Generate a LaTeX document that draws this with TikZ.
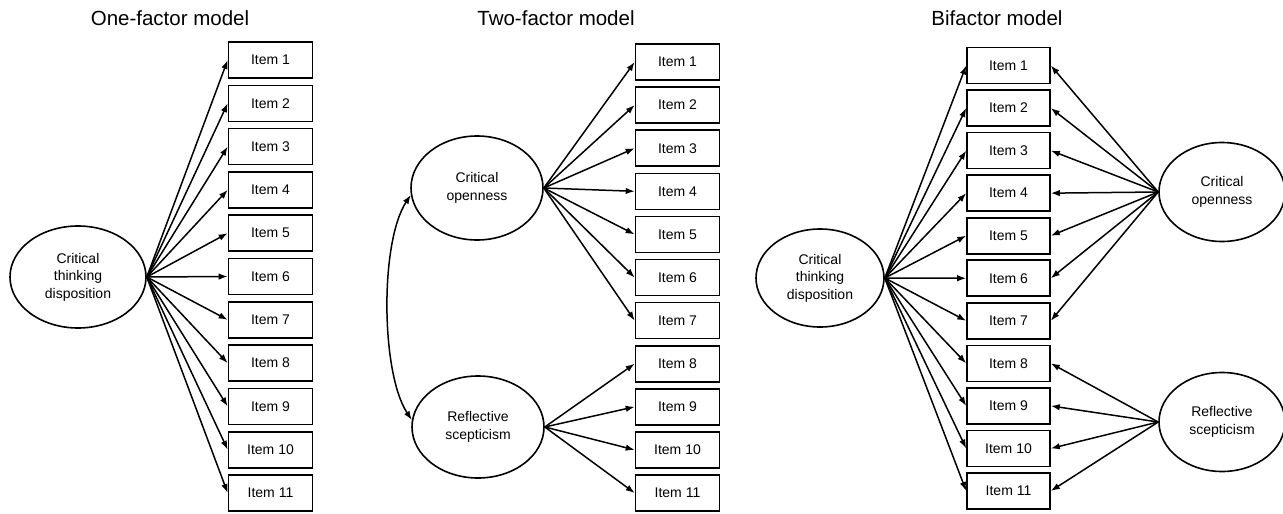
\documentclass[tikz,border=0pt]{standalone}
\usepackage{fontspec}
\setmainfont{Liberation Sans}
\usetikzlibrary{shapes.geometric,arrows.meta,calc}
\begin{document}
\begin{tikzpicture}[x=1pt,y=-1pt,
  itembox/.style={draw, line width=1.6pt, minimum width=84pt, minimum height=36pt, inner sep=0pt, font=\fontsize{14}{17}\selectfont},
  latent/.style={draw, ellipse, line width=1.6pt, inner sep=0pt, align=center, font=\fontsize{14}{17.5}\selectfont},
  paneltitle/.style={font=\fontsize{20.5}{24}\selectfont},
  loading/.style={line width=1.5pt, -{Latex[length=9pt,width=6.5pt]}},
  covar/.style={line width=1.5pt, {Latex[length=9pt,width=6.5pt]}-{Latex[length=9pt,width=6.5pt]}}
]
\useasboundingbox (0,0) rectangle (1283,514);
\fill[white] (0,0) rectangle (1283,514);

% ---------- One-factor model ----------
\node[paneltitle] (t1) at (170,18) {One-factor model};
\foreach \i in {1,...,11}
  \node[itembox] (a\i) at (270.5,{60+43.3*(\i-1)}) {Item \i};
\node[latent, minimum width=136pt, minimum height=102pt] (ctd1) at (78,277) {Critical\\thinking\\disposition};
\foreach \i in {1,...,11}
  \draw[loading] (ctd1.east) -- (a\i.west);

% ---------- Two-factor model ----------
\node[paneltitle] (t2) at (556,18) {Two-factor model};
\foreach \i in {1,...,11}
  \node[itembox] (b\i) at (677.5,{62+43.1*(\i-1)}) {Item \i};
\node[latent, minimum width=132pt, minimum height=104pt] (co2) at (477,188) {Critical\\openness};
\node[latent, minimum width=132pt, minimum height=102pt] (rs2) at (478,427) {Reflective\\scepticism};
\foreach \i in {1,...,7}
  \draw[loading] (co2.east) -- (b\i.west);
\foreach \i in {8,...,11}
  \draw[loading] (rs2.east) -- (b\i.west);
\draw[covar] (co2.186) .. controls ($(co2.186)+(-31,47)$) and ($(rs2.174)+(-31,-47)$) .. (rs2.174);

% ---------- Bifactor model ----------
\node[paneltitle] (t3) at (997,18) {Bifactor model};
\foreach \i in {1,...,11}
  \node[itembox, minimum width=83pt] (c\i) at (1008.5,{65.5+42.55*(\i-1)}) {Item \i};
\node[latent, minimum width=128pt, minimum height=98pt] (ctd3) at (820,278) {Critical\\thinking\\disposition};
\node[latent, minimum width=126pt, minimum height=99pt] (co3) at (1222,192) {Critical\\openness};
\node[latent, minimum width=126pt, minimum height=99pt] (rs3) at (1222,422) {Reflective\\scepticism};
\foreach \i in {1,...,11}
  \draw[loading] (ctd3.east) -- (c\i.west);
\foreach \i in {1,...,7}
  \draw[loading] (co3.west) -- (c\i.east);
\foreach \i in {8,...,11}
  \draw[loading] (rs3.west) -- (c\i.east);
\end{tikzpicture}
\end{document}
